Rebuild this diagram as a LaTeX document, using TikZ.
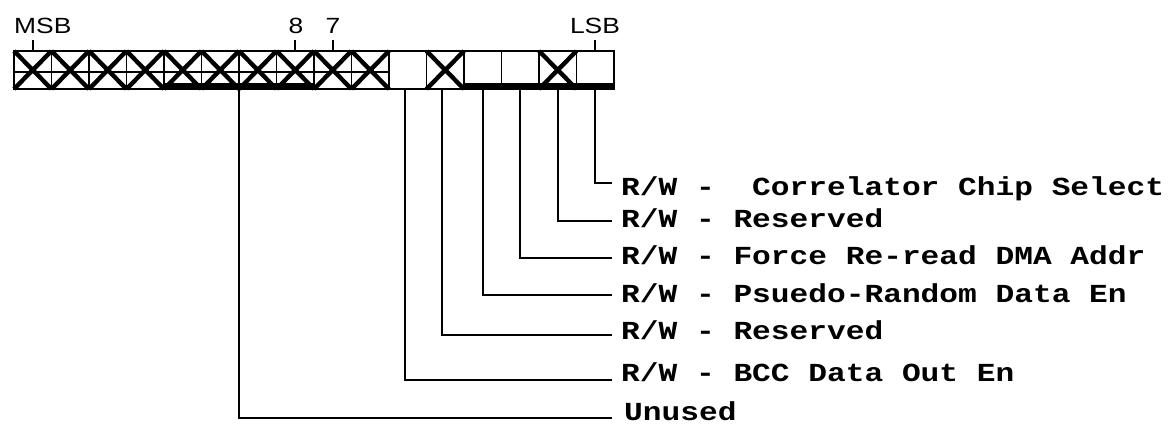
\documentclass[tikz,border=0pt]{standalone}
\usepackage{fontspec}
\setmainfont{Liberation Sans}
\setsansfont{Liberation Sans}
\setmonofont{Liberation Mono}
\usepackage{tikz}
\usetikzlibrary{calc, positioning}
\newcommand{\wide}[1]{\scalebox{1.2}[1]{#1}}
\tikzset{
  cell/.style={draw, line width=1.2pt, minimum width=37.5pt, minimum height=38pt,
               inner sep=0pt, outer sep=0pt},
  xmark/.style={line width=4.4pt},
  fieldbar/.style={line width=5pt},
  lead/.style={line width=1.6pt},
  bitname/.style={font=\fontsize{22}{22}\selectfont\sffamily, inner sep=0pt},
  fieldname/.style={font=\fontsize{26}{26}\selectfont\ttfamily\bfseries,
                    anchor=mid west, inner sep=0pt}
}

\begin{document}
\begin{tikzpicture}[x=1pt, y=-1pt]
  \useasboundingbox (0,0) rectangle (1175,437);
  %---- Register cells, bit 15 on the left ------------------------------------
  \foreach \i in {0,...,15}
    \node[cell] (c\i) at ({14+37.5*(\i+0.5)},70) {};
  \foreach \i in {0,...,9,11,14}
    \draw[xmark] (c\i.north west)--(c\i.south east) (c\i.north east)--(c\i.south west);
  %---- Bit markers above ----------------------------------------------------
  \draw[lead] (c0.north) -- ++(0,-11);
  \draw[lead] (c7.north) -- ++(0,-11);
  \draw[lead] (c8.north) -- ++(0,-11);
  \draw[lead] (c15.north) -- ++(0,-11);
  \node[bitname, anchor=base west] (msb) at (14,33) {\wide{MSB}};
  \node[bitname, anchor=base] (b8) at (296,33) {\wide{8}};
  \node[bitname, anchor=base] (b7) at (333,33) {\wide{7}};
  \node[bitname, anchor=base] (lsb) at (595,33) {\wide{LSB}};
  %---- Field bars and bracket below ------------------------------------------
  \draw[fieldbar] ([yshift=4]c4.south west) -- ([yshift=4]c7.south east);
  \draw[fieldbar] ([yshift=4]c12.south west) -- ([yshift=4]c15.south east);
  \draw[lead] ([yshift=8]c0.south west) -- ([yshift=20]c0.south west);
  \draw[lead] ([yshift=17]c0.south west) -| (c9.south east);
  \coordinate (u) at ([yshift=4]c5.south east);
  %---- Field names -----------------------------------------------------------
  \node[fieldname] (l0) at (621,193) {\wide{R/W - ~Correlator Chip Select}};
  \node[fieldname] (l1) at (621,225) {\wide{R/W - Reserved}};
  \node[fieldname] (l2) at (621,262) {\wide{R/W - Force Re-read DMA Addr}};
  \node[fieldname] (l3) at (621,300) {\wide{R/W - Psuedo-Random Data En}};
  \node[fieldname] (l4) at (621,337) {\wide{R/W - Reserved}};
  \node[fieldname] (l5) at (621,379) {\wide{R/W - BCC Data Out En}};
  \node[fieldname] (l6) at (624,418) {\wide{Unused}};
  \coordinate (e0) at (612,183);
  \coordinate (e1) at (612,221);
  \coordinate (e2) at (612,258);
  \coordinate (e3) at (612,295);
  \coordinate (e4) at (612,335);
  \coordinate (e5) at (612,380);
  \coordinate (e6) at (612,418);
  %---- Leaders ---------------------------------------------------------------
  \draw[lead] (c15.south) |- (e0);
  \draw[lead] (c14.south) |- (e1);
  \draw[lead] (c13.south) |- (e2);
  \draw[lead] (c12.south) |- (e3);
  \draw[lead] ([xshift=-3]c11.south) |- (e4);
  \draw[lead] ([xshift=-3]c10.south) |- (e5);
  \draw[lead] (u) |- (e6);
\end{tikzpicture}
\end{document}
